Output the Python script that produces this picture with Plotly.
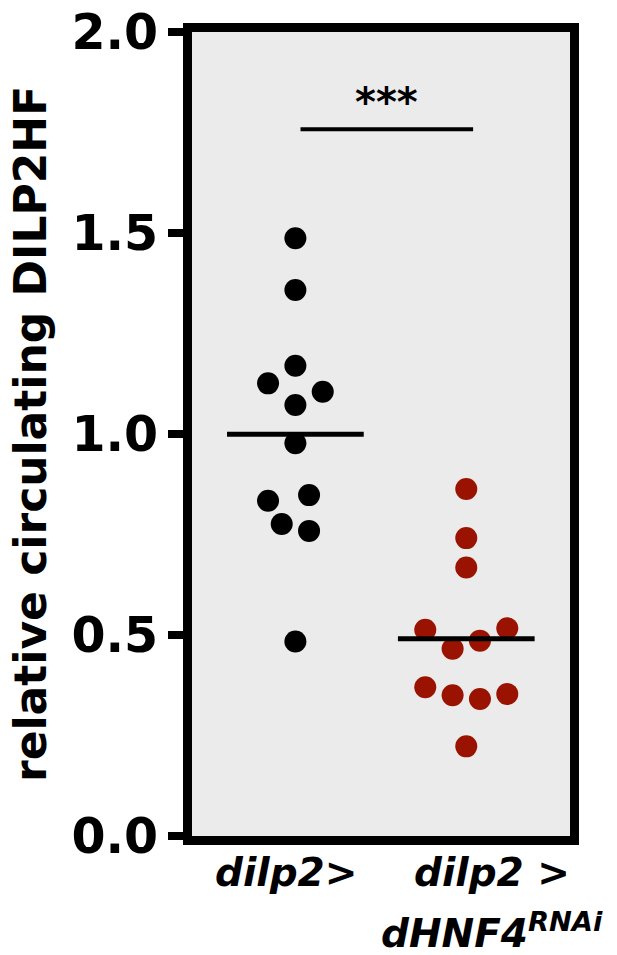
import plotly.graph_objects as go

# relative circulating DILP2HF
ctrl_vals = [1.487, 1.358, 1.170, 1.126, 1.105, 1.072, 0.977, 0.848, 0.834, 0.776, 0.759, 0.484]
ctrl_jitter = [0, 0, 0, -2, 2, 0, 0, 1, -2, -1, 1, 0]
rnai_vals = [0.863, 0.741, 0.668, 0.513, 0.517, 0.466, 0.486, 0.370, 0.350, 0.341, 0.353, 0.223]
rnai_jitter = [0, 0, 0, -3, 3, -1, 1, -3, -1, 1, 3, 0]

ctrl_mean = sum(ctrl_vals) / len(ctrl_vals)
rnai_mean = sum(rnai_vals) / len(rnai_vals)

y_ticks = [0.0, 0.5, 1.0, 1.5, 2.0]
sig_y = 1.758
step = 0.08

FONT = "DejaVu Sans"
RED = "#9a1200"

fig = go.Figure()

fig.add_trace(go.Scatter(
    x=[0 + j * step for j in ctrl_jitter],
    y=ctrl_vals,
    mode='markers',
    marker=dict(color='black', size=22),
    showlegend=False
))

fig.add_trace(go.Scatter(
    x=[1 + j * step for j in rnai_jitter],
    y=rnai_vals,
    mode='markers',
    marker=dict(color=RED, size=22),
    showlegend=False
))

# mean bars
for cx, m in [(0, ctrl_mean), (1, rnai_mean)]:
    fig.add_shape(type='line', x0=cx - 0.4, x1=cx + 0.4, y0=m, y1=m,
                  line=dict(color='black', width=5))

# significance bar
fig.add_shape(type='line', x0=0.03, x1=1.04, y0=sig_y, y1=sig_y,
              line=dict(color='black', width=4))
fig.add_annotation(x=0.535, y=sig_y, text='<b>***</b>', showarrow=False,
                   yanchor='bottom', yshift=2,
                   font=dict(family=FONT, size=40, color='black'))

# category labels
lab_font = dict(family=FONT, size=39, color='black', style='italic', weight='bold')
fig.add_annotation(x=0, y=0, yref='paper', text='dilp2>', showarrow=False,
                   xshift=-9, yanchor='top', yshift=-12, font=lab_font)
fig.add_annotation(x=1, y=0, yref='paper', text='dilp2 >', showarrow=False,
                   xshift=26, yanchor='top', yshift=-12, font=lab_font)
fig.add_annotation(x=1, y=0, yref='paper', text='dHNF4<sup>RNAi</sup>', showarrow=False,
                   xshift=26, yanchor='top', yshift=-68, font=lab_font)

# y axis title
fig.add_annotation(x=0, y=0.5, xref='paper', yref='paper',
                   text='relative circulating DILP2HF', showarrow=False,
                   textangle=-90, xanchor='center', xshift=-162, borderpad=0,
                   font=dict(family=FONT, size=44, color='black', weight='bold'))

fig.update_layout(
    width=617,
    height=955,
    margin=dict(l=183.5, r=55, t=23.5, b=127, autoexpand=False),
    paper_bgcolor='white',
    plot_bgcolor='#ebebeb',
    showlegend=False
)

fig.update_xaxes(
    range=[-0.605, 1.607],
    showgrid=False,
    zeroline=False,
    showticklabels=False,
    ticks='',
    showline=True,
    linecolor='black',
    linewidth=9,
    mirror=True,
    automargin=False
)

fig.update_yaxes(
    range=[0, 2],
    tickvals=y_ticks,
    ticktext=[f'{v:.1f}' for v in y_ticks],
    showgrid=False,
    zeroline=False,
    ticks='outside',
    ticklen=15,
    tickwidth=8,
    tickcolor='black',
    tickfont=dict(family=FONT, size=49, color='black', weight='bold'),
    ticklabeloverflow='allow',
    showline=True,
    linecolor='black',
    linewidth=9,
    mirror=True,
    automargin=False
)

fig.write_html("out.html")
